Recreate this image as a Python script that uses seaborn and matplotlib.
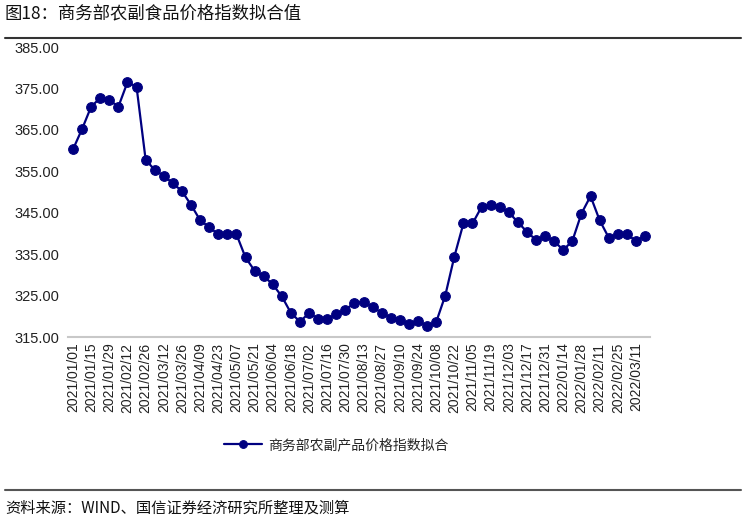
import pandas as pd
import seaborn as sns
import matplotlib.pyplot as plt

# weekly observations, 2021/01/01 - 2022/03/18
dates = pd.date_range("2021-01-01", periods=64, freq="7D")
index_values = [
    360.3, 365.2, 370.6, 372.7, 372.2, 370.6, 376.5, 375.4, 357.8, 355.3,
    353.9, 352.1, 350.2, 346.9, 343.2, 341.5, 339.8, 339.8, 339.8, 334.2,
    331.0, 329.7, 327.7, 324.8, 320.8, 318.7, 320.8, 319.4, 319.4, 320.5,
    321.6, 323.2, 323.5, 322.3, 320.8, 319.7, 319.2, 318.2, 318.9, 317.7,
    318.6, 325.0, 334.4, 342.4, 342.4, 346.4, 346.8, 346.3, 345.1, 342.7,
    340.4, 338.4, 339.4, 338.1, 336.0, 338.2, 344.8, 349.0, 343.2, 339.0,
    339.8, 339.8, 338.2, 339.4,
]
series_name = "商务部农副产品价格指数拟合"
y_ticks = [315, 325, 335, 345, 355, 365, 375, 385]

df = pd.DataFrame({"pos": range(len(dates)), "value": index_values,
                   "label": dates.strftime("%Y/%m/%d"), "series": series_name})

sns.set_style("white")
plt.rcParams['font.family'] = ['Liberation Sans', 'Noto Sans CJK SC', 'DejaVu Sans']

fig = plt.figure(figsize=(7.46, 5.2), dpi=100)
ax = fig.add_axes([68/746, 1-337/520, (650-68)/746, (337-47)/520])

navy = "#000080"
sns.lineplot(data=df, x="pos", y="value", hue="series", palette=[navy], marker="o",
             markersize=7, markeredgecolor=navy, linewidth=1.6, ax=ax)

ax.set_xlim(-0.55, len(dates) - 1 + 0.55)
ax.set_ylim(315, 385)
ax.set_yticks(y_ticks)
ax.set_yticklabels(["%.2f" % v for v in y_ticks], fontsize=10.5, color="#222222")
ax.set_xticks(df["pos"][::2])
ax.set_xticklabels(df["label"][::2], rotation=90, fontsize=10, color="#222222")
ax.tick_params(axis="both", length=0, pad=4)
ax.tick_params(axis="y", pad=6)
ax.set_xlabel("")
ax.set_ylabel("")
for side in ["left", "right", "top"]:
    ax.spines[side].set_visible(False)
ax.spines["bottom"].set_color("#c8c8c8")
ax.spines["bottom"].set_linewidth(1.5)

leg = ax.legend(loc="center", bbox_to_anchor=(336/746, 1-445/520),
                bbox_transform=fig.transFigure, frameon=False,
                prop={"family": ["Noto Sans CJK SC"], "size": 10},
                handlelength=2.8, handletextpad=0.4, markerscale=0.8)

fig.text(5/746, 1-13/520, "图18：商务部农副食品价格指数拟合值", fontsize=12.5,
         family=["Noto Sans CJK SC"], weight="medium", va="center", ha="left",
         color="#111111")
fig.add_artist(plt.Line2D([5/746, 741/746], [1-38/520, 1-38/520],
                          transform=fig.transFigure, color="#333333", linewidth=1.5))
fig.add_artist(plt.Line2D([5/746, 741/746], [1-490/520, 1-490/520],
                          transform=fig.transFigure, color="#555555", linewidth=1.5))
fig.text(5/746, 1-508/520, "资料来源：WIND、国信证券经济研究所整理及测算", fontsize=11,
         family=["Noto Sans CJK SC"], va="center", ha="left", color="#111111")

fig.savefig("out.png", dpi=100)
